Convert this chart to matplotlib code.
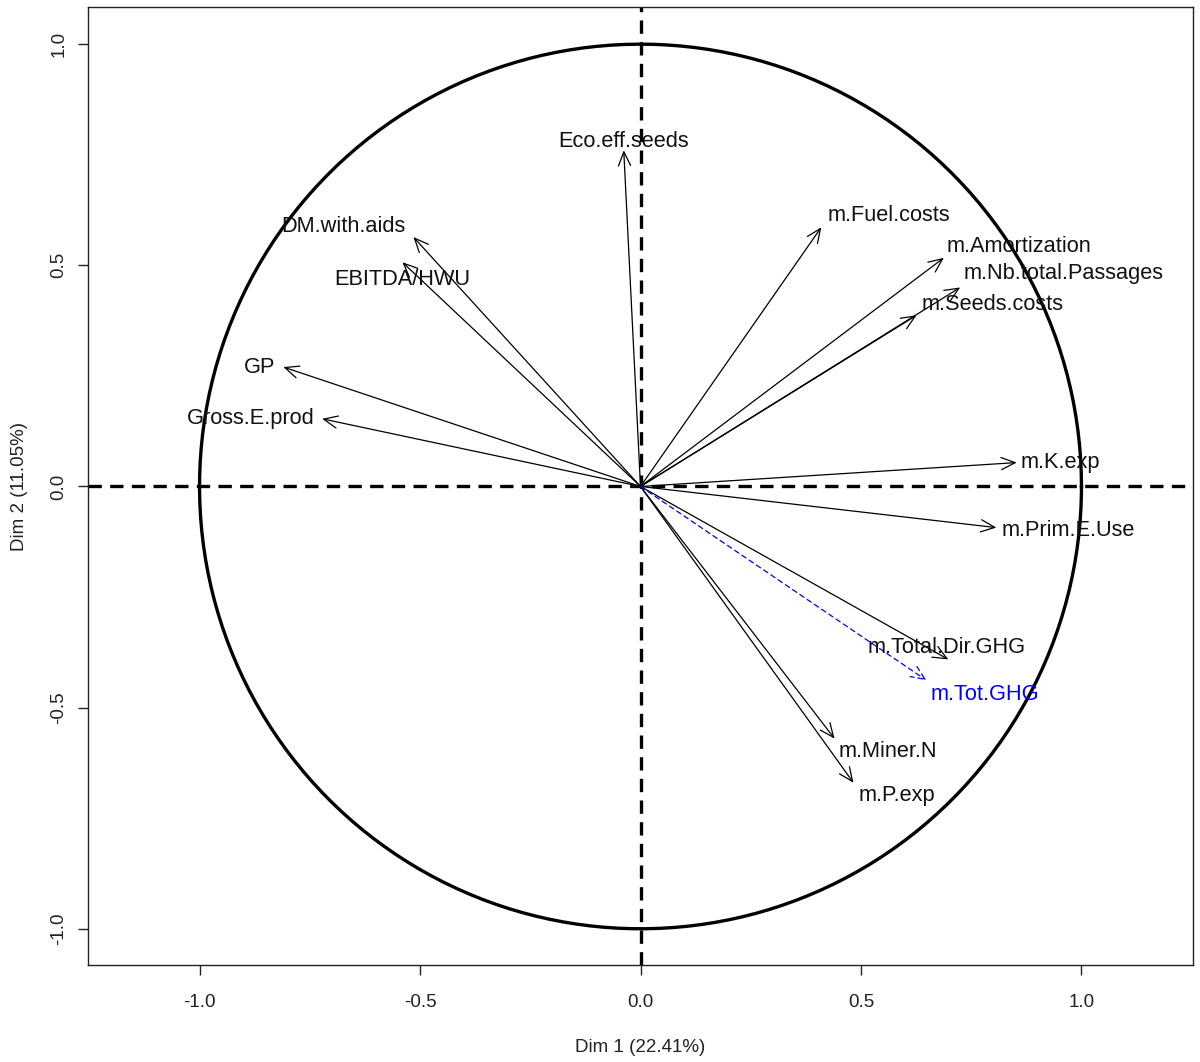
import numpy as np
import matplotlib
matplotlib.use("Agg")
import matplotlib.pyplot as plt

plt.rcParams['font.family'] = ['Liberation Sans', 'DejaVu Sans']

# variable coordinates on Dim 1 / Dim 2
var_names = ['Eco.eff.seeds', 'm.Fuel.costs', 'm.Amortization', 'm.Nb.total.Passages',
             'm.Seeds.costs', 'DM.with.aids', 'EBITDA/HWU', 'GP', 'Gross.E.prod',
             'm.K.exp', 'm.Prim.E.Use', 'm.Total.Dir.GHG', 'm.Miner.N', 'm.P.exp']
dim1 = [-0.038, 0.410, 0.688, 0.725, 0.626, -0.515, -0.540, -0.810, -0.722,
        0.853, 0.807, 0.698, 0.440, 0.483]
dim2 = [0.760, 0.586, 0.517, 0.450, 0.387, 0.564, 0.507, 0.270, 0.153,
        0.054, -0.093, -0.391, -0.570, -0.670]

# supplementary variable
sup_names = ['m.Tot.GHG']
sup_dim1 = [0.648]
sup_dim2 = [-0.438]

dim1_pct = 22.41
dim2_pct = 11.05

# label placement (pixel offset from arrow tip, horizontal alignment)
lab_off = [(0, 9, 'center'), (6, 12, 'left'), (3, 11, 'left'), (3, 14, 'left'),
           (5, 11, 'left'), (-8, 11, 'right'), (0, -17, 'center'), (-8, 0, 'right'),
           (-7, 0, 'right'), (4, 0, 'left'), (5, -3, 'left'), (-2, 12, 'center'),
           (4, -13, 'left'), (5, -13, 'left')]
sup_off = [(4, -14, 'left')]

fig = plt.figure(figsize=(12, 10.62), dpi=100)
ax = fig.add_axes([0.0733, 0.0913, 0.9209, 0.9021])

# unit circle
t = np.linspace(0, 2 * np.pi, 400)
ax.plot(np.cos(t), np.sin(t), color='black', lw=2.4, zorder=2)

# axes through origin
ax.axhline(0, color='black', lw=2.4, ls=(0, (4, 2.5)), zorder=1)
ax.axvline(0, color='black', lw=2.4, ls=(0, (4, 2.5)), zorder=1)

arrow_kw = dict(arrowstyle='->,head_length=0.5,head_width=0.22', lw=0.9,
                shrinkA=0, shrinkB=0, mutation_scale=20)

for name, x, y, (dx, dy, ha) in zip(var_names, dim1, dim2, lab_off):
    ax.annotate('', xy=(x, y), xytext=(0, 0),
                arrowprops=dict(color='black', **arrow_kw), zorder=3)
    ax.annotate(name, xy=(x, y), xytext=(dx, dy), textcoords='offset pixels',
                ha=ha, va='center', fontsize=15.7, color='#111111', zorder=4)

for name, x, y, (dx, dy, ha) in zip(sup_names, sup_dim1, sup_dim2, sup_off):
    ax.annotate('', xy=(x, y), xytext=(0, 0),
                arrowprops=dict(color='blue', linestyle=(0, (4, 3)), **arrow_kw), zorder=3)
    ax.annotate(name, xy=(x, y), xytext=(dx, dy), textcoords='offset pixels',
                ha=ha, va='center', fontsize=15.7, color='blue', zorder=4)

ax.set_xlim(-1.253, 1.253)
ax.set_ylim(-1.082, 1.084)

ticks = [-1.0, -0.5, 0.0, 0.5, 1.0]
ax.set_xticks(ticks)
ax.set_yticks(ticks)
ax.set_xticklabels(['%.1f' % v for v in ticks])
ax.set_yticklabels(['%.1f' % v for v in ticks], rotation=90, va='center')
ax.tick_params(direction='out', length=7, width=1, labelsize=13.5, colors='#222222')
ax.tick_params(axis='x', pad=14)
ax.tick_params(axis='y', pad=8)

for sp in ax.spines.values():
    sp.set_linewidth(1.0)
    sp.set_color('#222222')

ax.set_xlabel('Dim 1 (%.2f%%)' % dim1_pct, fontsize=13.5, labelpad=20, color='#222222')
ax.set_ylabel('Dim 2 (%.2f%%)' % dim2_pct, fontsize=13.5, labelpad=16, color='#222222')

fig.savefig('out.png', dpi=100)
